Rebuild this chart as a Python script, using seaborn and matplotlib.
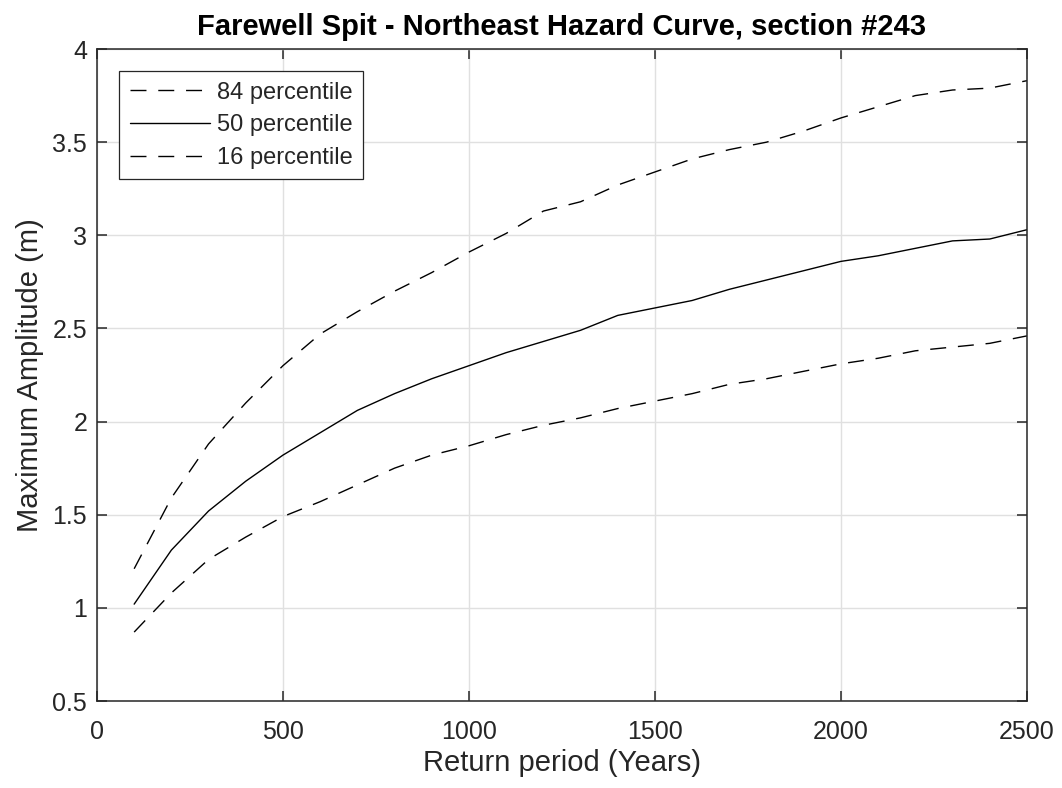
import numpy as np
import pandas as pd
import matplotlib
matplotlib.use("Agg")
import matplotlib.pyplot as plt
import seaborn as sns

# return periods (years) and percentile curves
years = [100, 200, 300, 400, 500, 600, 700, 800, 900, 1000, 1100, 1200, 1300,
         1400, 1500, 1600, 1700, 1800, 1900, 2000, 2100, 2200, 2300, 2400, 2500]
p84 = [1.21, 1.59, 1.88, 2.10, 2.30, 2.47, 2.59, 2.70, 2.80, 2.91, 3.01, 3.13, 3.18,
       3.27, 3.34, 3.41, 3.46, 3.50, 3.56, 3.63, 3.69, 3.75, 3.78, 3.79, 3.83]
p50 = [1.02, 1.31, 1.52, 1.68, 1.82, 1.94, 2.06, 2.15, 2.23, 2.30, 2.37, 2.43, 2.49,
       2.57, 2.61, 2.65, 2.71, 2.76, 2.81, 2.86, 2.89, 2.93, 2.97, 2.98, 3.03]
p16 = [0.87, 1.08, 1.26, 1.38, 1.49, 1.57, 1.66, 1.75, 1.82, 1.87, 1.93, 1.98, 2.02,
       2.07, 2.11, 2.15, 2.20, 2.23, 2.27, 2.31, 2.34, 2.38, 2.40, 2.42, 2.46]
labels = ['84 percentile', '50 percentile', '16 percentile']
x_ticks = [0, 500, 1000, 1500, 2000, 2500]
y_ticks = [0.5, 1, 1.5, 2, 2.5, 3, 3.5, 4]

sns.set_theme(style="whitegrid")
plt.rcParams['font.family'] = ['Liberation Sans', 'DejaVu Sans']

fig = plt.figure(figsize=(10.62, 7.88), dpi=100)
ax = fig.add_axes([0.0913, 0.1104, 0.8757, 0.8274])

dash = (0, (11.5, 8.5))
styles = [dash, '-', dash]
for vals, lab, ls in zip([p84, p50, p16], labels, styles):
    df = pd.DataFrame({'year': years, 'amp': vals})
    sns.lineplot(data=df, x='year', y='amp', ax=ax, color='black',
                 linestyle=ls, linewidth=1.0, label=lab)

ax.set_xlim(0, 2500)
ax.set_ylim(0.5, 4)
ax.set_xticks(x_ticks)
ax.set_yticks(y_ticks)
ax.set_yticklabels(['0.5', '1', '1.5', '2', '2.5', '3', '3.5', '4'])

ax.grid(True, color='#e0e0e0', linewidth=1.0)
for s in ax.spines.values():
    s.set_visible(True)
    s.set_color('#262626')
    s.set_linewidth(1.1)
ax.tick_params(direction='in', length=7, width=1.1, color='#262626',
               labelcolor='#262626', labelsize=18, top=True, right=True,
               bottom=True, left=True)
ax.tick_params(axis='x', pad=14)
ax.tick_params(axis='y', pad=7)

ax.set_xlabel('Return period (Years)', fontsize=21, color='#262626', labelpad=3)
ax.set_ylabel('Maximum Amplitude (m)', fontsize=21, color='#262626', labelpad=6)
ax.set_title('Farewell Spit - Northeast Hazard Curve, section #243',
             fontsize=21, fontweight='bold', color='black', pad=10)

leg = ax.legend(loc='upper left', fontsize=17, frameon=True, fancybox=False,
                borderaxespad=0.93, handlelength=3.4, handletextpad=0.3,
                labelspacing=0.45, borderpad=0.45)
leg.get_frame().set_edgecolor('#262626')
leg.get_frame().set_linewidth(0.9)
leg.get_frame().set_alpha(1)

fig.savefig('out.png', dpi=100)
